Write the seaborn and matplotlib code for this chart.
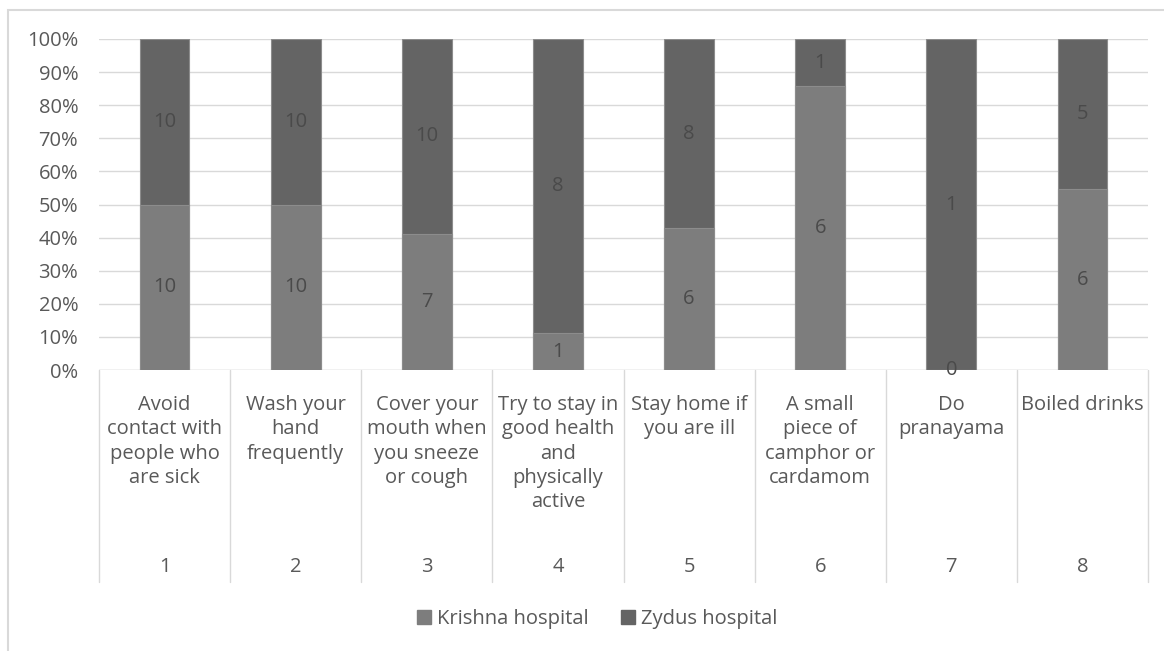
import matplotlib
matplotlib.use("Agg")
import matplotlib.pyplot as plt
import matplotlib.patches as mpatches
from matplotlib.lines import Line2D
import matplotlib.transforms as mtransforms
import seaborn as sns
import pandas as pd

# Precautions against infection reported by staff of two hospitals
item_numbers = ["1", "2", "3", "4", "5", "6", "7", "8"]
item_labels = [
    "Avoid\ncontact with\npeople who\nare sick",
    "Wash your\nhand\nfrequently",
    "Cover your\nmouth when\nyou sneeze\nor cough",
    "Try to stay in\ngood health\nand\nphysically\nactive",
    "Stay home if\nyou are ill",
    "A small\npiece of\ncamphor or\ncardamom",
    "Do\npranayama",
    "Boiled drinks",
]
krishna_counts = [10, 10, 7, 1, 6, 6, 0, 6]
zydus_counts = [10, 10, 10, 8, 8, 1, 1, 5]
y_ticks = [0, 10, 20, 30, 40, 50, 60, 70, 80, 90, 100]

KRISHNA_COLOR = "#7d7d7d"
ZYDUS_COLOR = "#646464"
EDGE_COLOR = "#8c8c8c"
TEXT_COLOR = "#595959"
GRID_COLOR = "#d9d9d9"
FS = 14.5

sns.set_theme(style="white")
plt.rcParams["font.family"] = ["Open Sans", "DejaVu Sans"]

df = pd.DataFrame({
    "item": item_numbers,
    "krishna": krishna_counts,
    "zydus": zydus_counts,
})
df["total"] = df["krishna"] + df["zydus"]
df["krishna_pct"] = df["krishna"] / df["total"] * 100
df["total_pct"] = 100.0

W, H = 1164, 651
fig = plt.figure(figsize=(W / 100, H / 100), dpi=100)
ax_left, ax_right, ax_top, ax_bottom = 99, 1148, 39, 370
ax = fig.add_axes([ax_left / W, 1 - ax_bottom / H,
                   (ax_right - ax_left) / W, (ax_bottom - ax_top) / H])

# 100% stacked bars: full column in Zydus colour, Krishna share drawn over it
sns.barplot(data=df, x="item", y="total_pct", color=ZYDUS_COLOR,
            width=0.38, saturation=1, ax=ax, zorder=2,
            edgecolor=EDGE_COLOR, linewidth=0.8)
sns.barplot(data=df, x="item", y="krishna_pct", color=KRISHNA_COLOR,
            width=0.38, saturation=1, ax=ax, zorder=3,
            edgecolor=EDGE_COLOR, linewidth=0.8)

ax.set_xlim(-0.5, len(item_numbers) - 0.5)
ax.set_ylim(0, 100)
ax.set_yticks(y_ticks)
ax.set_yticklabels([f"{t}%" for t in y_ticks])
ax.tick_params(axis="y", length=0, pad=15, labelsize=FS, labelcolor=TEXT_COLOR)
ax.set_xticks(range(len(item_numbers)))
ax.set_xticklabels([])
ax.tick_params(axis="x", length=0)
ax.set_xlabel("")
ax.set_ylabel("")
for s in ax.spines.values():
    s.set_visible(False)
ax.yaxis.grid(True, color=GRID_COLOR, linewidth=1)
ax.set_axisbelow(True)
ax.axhline(0, color=GRID_COLOR, linewidth=1, zorder=1)

# segment value labels
for i, row in df.iterrows():
    kp = row["krishna_pct"]
    ax.text(i, kp / 2, f"{row['krishna']}", ha="center", va="center",
            fontsize=FS, color="#4a4a4a", zorder=5)
    ax.text(i, kp + (100 - kp) / 2, f"{row['zydus']}", ha="center", va="center",
            fontsize=FS, color="#4a4a4a", zorder=5)

# category table below the axis
trans = mtransforms.blended_transform_factory(ax.transData, ax.transAxes)
sep_bottom = (ax_bottom - 582) / (ax_bottom - ax_top)
for k in range(len(item_numbers) + 1):
    ax.add_line(Line2D([k - 0.5, k - 0.5], [0, sep_bottom], transform=trans,
                       color=GRID_COLOR, linewidth=1, clip_on=False))
label_top = (ax_bottom - 395) / (ax_bottom - ax_top)
num_y = (ax_bottom - 567) / (ax_bottom - ax_top)
for k, (lab, num) in enumerate(zip(item_labels, item_numbers)):
    ax.text(k, label_top, lab, transform=trans, ha="center", va="top",
            fontsize=FS, color=TEXT_COLOR, linespacing=1.29, clip_on=False)
    ax.text(k, num_y, num, transform=trans, ha="center", va="center",
            fontsize=FS, color=TEXT_COLOR, clip_on=False)

# legend
handles = [mpatches.Patch(color=KRISHNA_COLOR, label="Krishna hospital"),
           mpatches.Patch(color=ZYDUS_COLOR, label="Zydus hospital")]
fig.legend(handles=handles, loc="center", bbox_to_anchor=(597 / W, 1 - 619 / H),
           ncol=2, frameon=False, fontsize=FS, labelcolor=TEXT_COLOR,
           handlelength=0.7, handleheight=0.7, handletextpad=0.3,
           columnspacing=1.6)

# chart area border
fig.patches.append(mpatches.Rectangle((8 / W, -0.05), 1.1, 1 - 10 / H + 0.05,
                                      transform=fig.transFigure, fill=False,
                                      edgecolor=GRID_COLOR, linewidth=1.5))

fig.savefig("out.png", dpi=100, facecolor="white")
